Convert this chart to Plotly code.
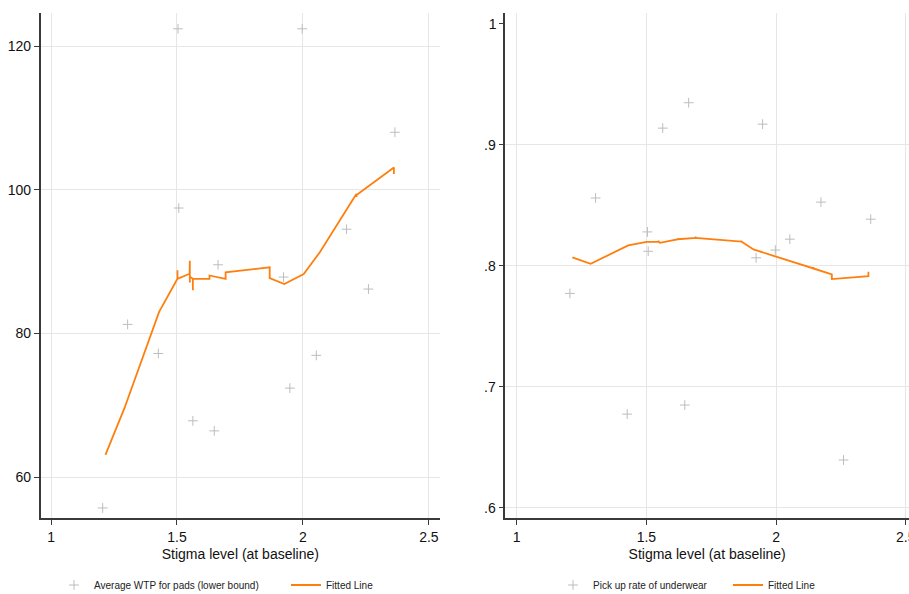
import plotly.graph_objects as go

# Baseline stigma level per district (shared x for both panels)
stigma = [1.205, 1.304, 1.426, 1.504, 1.507, 1.563, 1.648, 1.663,
          1.923, 1.948, 1.997, 2.053, 2.173, 2.260, 2.365]

# Average willingness-to-pay for pads (lower bound)
wtp = [55.7, 81.25, 77.2, 122.4, 97.45, 67.83, 66.43, 89.55,
       87.84, 72.38, 122.4, 76.94, 94.5, 86.17, 108.0]

# Pick-up rate of underwear
pickup = [0.7772, 0.856, 0.6775, 0.828, 0.812, 0.9137, 0.685, 0.9347,
          0.8066, 0.917, 0.813, 0.822, 0.8526, 0.6396, 0.8385]

# Fitted (local) line for WTP, including the small jumps at tied x values
wtp_fit_x = [1.216, 1.291, 1.429, 1.502, 1.502, 1.502, 1.550, 1.551, 1.551,
             1.551, 1.563, 1.563, 1.563, 1.629, 1.629, 1.693, 1.693, 1.868,
             1.868, 1.926, 2.003, 2.067, 2.212, 2.212, 2.214, 2.361, 2.361]
wtp_fit_y = [63.1, 69.55, 83.0, 87.6, 88.8, 87.6, 88.3, 90.1, 87.1,
             87.9, 87.6, 86.0, 87.6, 87.6, 88.06, 87.6, 88.5, 89.2,
             87.7, 86.87, 88.27, 91.3, 99.4, 99.0, 99.3, 103.1, 102.2]

# Fitted (local) line for pick-up rate
pick_fit_x = [1.2146, 1.285, 1.430, 1.501, 1.547, 1.547, 1.547, 1.552, 1.623,
              1.623, 1.623, 1.690, 1.690, 1.690, 1.866, 1.866, 1.866, 1.913,
              2.144, 2.144, 2.144, 2.215, 2.215, 2.356, 2.356]
pick_fit_y = [0.8069, 0.8017, 0.8168, 0.8198, 0.8198, 0.8208, 0.8198, 0.8190, 0.8220,
              0.8230, 0.8220, 0.8231, 0.8241, 0.8231, 0.8200, 0.8210, 0.8200, 0.8135,
              0.7978, 0.7990, 0.7978, 0.7929, 0.7890, 0.7915, 0.7951]

left_yticks = [60, 80, 100, 120]
left_ylabels = ["60", "80", "100", "120"]
# right panel: gridded ticks and the top tick (no grid line) kept apart
right_yticks = [0.6, 0.7, 0.8, 0.9]
right_ylabels = [".6", ".7", ".8", ".9"]
right_ytop = [1.0]
right_ytop_label = ["1"]
xticks = [1, 1.5, 2, 2.5]
xlabels = ["1", "1.5", "2", "2.5"]

FONT = "Liberation Sans, Arial, sans-serif"
ORANGE = "#ff7f0e"
MARK = "#bdbdbd"
AXIS = "#3a3a3a"
GRID = "#e6e6e6"
TXT = "#111111"

fig = go.Figure()

fig.add_trace(go.Scatter(
    x=stigma, y=wtp, mode="markers", name="Average WTP for pads (lower bound)",
    marker=dict(symbol="cross-thin", size=7, line=dict(color=MARK, width=1)),
    xaxis="x", yaxis="y", legend="legend"))
fig.add_trace(go.Scatter(
    x=wtp_fit_x, y=wtp_fit_y, mode="lines", name="Fitted Line",
    line=dict(color=ORANGE, width=1.8),
    xaxis="x", yaxis="y", legend="legend"))

fig.add_trace(go.Scatter(
    x=stigma, y=pickup, mode="markers", name="Pick up rate of underwear",
    marker=dict(symbol="cross-thin", size=7, line=dict(color=MARK, width=1)),
    xaxis="x2", yaxis="y2", legend="legend2"))
fig.add_trace(go.Scatter(
    x=pick_fit_x, y=pick_fit_y, mode="lines", name="Fitted Line",
    line=dict(color=ORANGE, width=1.8),
    xaxis="x2", yaxis="y2", legend="legend2"))
# empty trace so the overlaid top-tick axis is rendered
fig.add_trace(go.Scatter(x=[], y=[], mode="markers", xaxis="x2", yaxis="y3",
                         showlegend=False, hoverinfo="skip"))

W, H = 909, 594
ydom = [(H - 518) / H, (H - 13) / H]
right_yrange = [0.5917, 1.0088]

xcommon = dict(
    tickvals=xticks, ticktext=xlabels, showgrid=True, gridcolor=GRID, gridwidth=1,
    showline=True, linecolor=AXIS, linewidth=1.5, ticks="outside", ticklen=5,
    tickcolor=AXIS, tickfont=dict(family=FONT, size=14, color=TXT),
    zeroline=False, automargin=False,
    title=dict(text="Stigma level (at baseline)", standoff=6,
               font=dict(family=FONT, size=14, color=TXT)))
ycommon = dict(
    showgrid=True, gridcolor=GRID, gridwidth=1,
    showline=True, linecolor=AXIS, linewidth=1.5, ticks="outside", ticklen=5,
    tickcolor=AXIS, tickfont=dict(family=FONT, size=14, color=TXT),
    zeroline=False, automargin=False)

legend_style = dict(orientation="h", xanchor="left", y=(H - 585) / H,
                    yanchor="middle", entrywidthmode="pixels", itemwidth=30,
                    font=dict(family=FONT, size=10, color="#222222"),
                    bgcolor="rgba(0,0,0,0)", tracegroupgap=0)

fig.update_layout(
    width=W, height=H,
    margin=dict(l=0, r=0, t=0, b=0, autoexpand=False),
    paper_bgcolor="white", plot_bgcolor="white",
    font=dict(family=FONT, color=TXT),
    xaxis=dict(domain=[40.7 / W, 440 / W], range=[0.959, 2.544], anchor="y", **xcommon),
    yaxis=dict(domain=ydom, range=[54.3, 124.6], anchor="x",
               tickvals=left_yticks, ticktext=left_ylabels, **ycommon),
    xaxis2=dict(domain=[505.3 / W, 1.0], range=[0.956, 2.5125], anchor="y2", **xcommon),
    yaxis2=dict(domain=ydom, range=right_yrange, anchor="x2",
                tickvals=right_yticks, ticktext=right_ylabels, **ycommon),
    yaxis3=dict(domain=ydom, range=right_yrange, anchor="x2", overlaying="y2",
                side="left", tickvals=right_ytop, ticktext=right_ytop_label,
                showgrid=False, showline=False, ticks="outside", ticklen=5,
                tickcolor=AXIS, tickfont=dict(family=FONT, size=14, color=TXT),
                zeroline=False, automargin=False),
    legend=dict(x=54 / W, entrywidth=187, **legend_style),
    legend2=dict(x=553 / W, entrywidth=130, **legend_style),
    showlegend=True,
)

# last x tick label of the right panel sits on the page edge
fig.add_annotation(x=xticks[-1], y=(H - 537) / H, xref="x2", yref="paper",
                   text=xlabels[-1], showarrow=False, xanchor="center",
                   yanchor="middle", font=dict(family=FONT, size=14, color=TXT))

fig.write_html("out.html")
